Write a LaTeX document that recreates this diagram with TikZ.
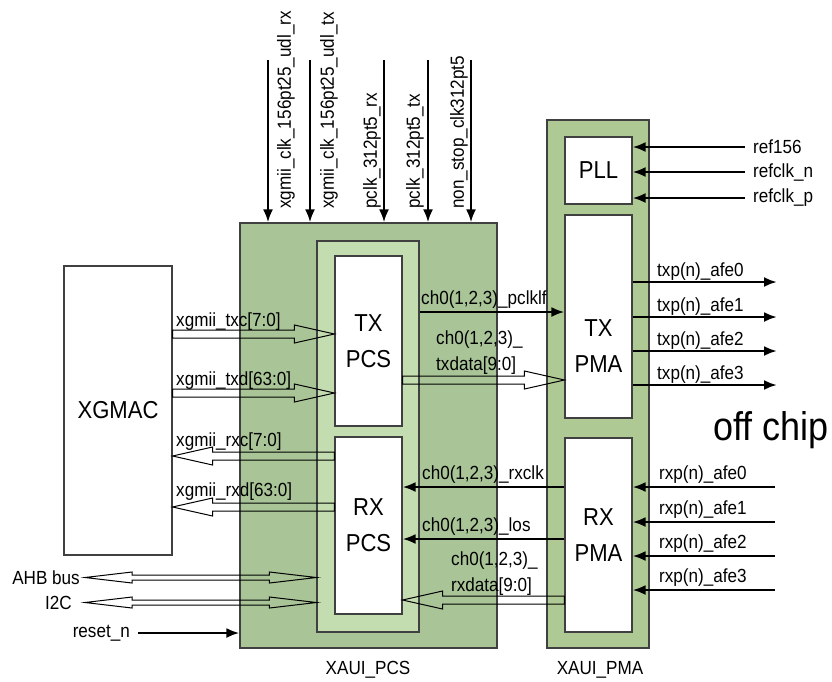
\documentclass[tikz,border=0pt]{standalone}
\usepackage{fontspec}
\setmainfont{Liberation Sans}[FakeStretch=0.9]
\usetikzlibrary{arrows.meta,calc}

\definecolor{pcsgreen}{HTML}{A9C597}
\definecolor{ingreen}{HTML}{C3DDB0}
\definecolor{pmagreen}{HTML}{AFC994}
\definecolor{boxedge}{HTML}{404040}

\tikzset{
	block/.style={draw=boxedge, line width=1.1pt, fill=white, inner sep=0pt, align=center, font=\fontsize{24.5}{36}\selectfont},
	sig/.style={line width=2.5pt, -{Latex[length=13pt,width=10pt]}},
	bus/.style={draw=black, line width=1pt},
	lbl/.style={inner sep=0pt, font=\fontsize{19}{26}\selectfont},
}

% hollow bus arrow, horizontal, from #1 to #2
\newcommand{\busarrow}[2]{%
	\draw[bus] ($(#1)+(0,4pt)$) -- ($(#2)!40pt!(#1)+(0,4pt)$) -- ($(#2)!40pt!(#1)+(0,9pt)$) -- (#2)
		-- ($(#2)!40pt!(#1)-(0,9pt)$) -- ($(#2)!40pt!(#1)-(0,4pt)$) -- ($(#1)-(0,4pt)$) -- cycle;}
% same with a head at both ends
\newcommand{\busbiarrow}[2]{%
	\draw[bus] (#1) -- ($(#1)!47pt!(#2)+(0,5.5pt)$) -- ($(#1)!47pt!(#2)+(0,2.5pt)$)
		-- ($(#2)!47pt!(#1)+(0,2.5pt)$) -- ($(#2)!47pt!(#1)+(0,5.5pt)$) -- (#2)
		-- ($(#2)!47pt!(#1)-(0,5.5pt)$) -- ($(#2)!47pt!(#1)-(0,2.5pt)$)
		-- ($(#1)!47pt!(#2)-(0,2.5pt)$) -- ($(#1)!47pt!(#2)-(0,5.5pt)$) -- cycle;}

\begin{document}
\begin{tikzpicture}[x=1pt,y=1pt]
	\useasboundingbox (0,0) rectangle (832,-681);

	% blocks
	\node[block, minimum width=108pt, minimum height=289pt] (xgmac) at (118,-410.5) {XGMAC};
	\node[block, fill=pcsgreen, minimum width=257pt, minimum height=425pt] (pcs) at (368.5,-435.5) {};
	\node[block, fill=ingreen, minimum width=102pt, minimum height=391pt] (pcsin) at (368,-436.5) {};
	\node[block, minimum width=67pt, minimum height=170pt] (txpcs) at (368.5,-341) {TX\\PCS};
	\node[block, minimum width=67pt, minimum height=177pt] (rxpcs) at (368.5,-525.5) {RX\\PCS};
	\node[block, fill=pmagreen, minimum width=102pt, minimum height=528pt] (pma) at (598,-384) {};
	\node[block, minimum width=67pt, minimum height=67pt] (pll) at (598.5,-170.5) {PLL};
	\node[block, minimum width=67pt, minimum height=203pt] (txpma) at (598.5,-316.5) {};
	\node[align=center, font=\fontsize{24.5}{36}\selectfont] (txpmatxt) at (598.5,-346) {TX\\PMA};
	\node[block, minimum width=67pt, minimum height=194pt] (rxpma) at (598.5,-535) {RX\\PMA};

	\node[lbl] (pcsname) at (368,-670) {XAUI\_PCS};
	\node[lbl] (pmaname) at (600,-670) {XAUI\_PMA};
	\node[inner sep=0pt, font=\fontsize{40}{44}\selectfont] (offchip) at (771,-430) {off chip};

	% clocks into the pcs
	\foreach \nm/\x in {clkrx/268, clktx/310, pclkrx/384, pclktx/428, nonstop/471}{
		\coordinate (\nm) at (\x,-60);
		\draw[sig] (\nm) -- (\nm |- pcs.north);
	}
	\node[lbl, rotate=90, anchor=north west] (clkrxl) at (277,-209) {xgmii\_clk\_156pt25\_udl\_rx};
	\node[lbl, rotate=90, anchor=north west] (clktxl) at (320,-209) {xgmii\_clk\_156pt25\_udl\_tx};
	\node[lbl, rotate=90, anchor=south west] (pclkrxl) at (381,-209) {pclk\_312pt5\_rx};
	\node[lbl, rotate=90, anchor=south west] (pclktxl) at (424,-209) {pclk\_312pt5\_tx};
	\node[lbl, rotate=90, anchor=south west] (nonstopl) at (468,-209) {non\_stop\_clk312pt5};

	% pll inputs
	\foreach \nm/\txt/\y in {ref/ref156/147, refn/refclk\_n/172, refp/refclk\_p/198}{
		\node[lbl, anchor=west, inner xsep=8pt] (\nm) at (745,-\y) {\txt};
		\draw[sig] (\nm.west) -- (\nm.west -| pll.east);
	}

	% serial lanes
	\foreach \i/\y in {0/282, 1/317, 2/351, 3/385}{
		\coordinate (txo\i) at (777,-\y);
		\draw[sig] (txo\i -| txpma.east) -- (txo\i);
		\node[lbl, anchor=base west] (txol\i) at (657,-\y+6) {txp(n)\_afe\i};
	}
	\foreach \i/\y in {0/487, 1/522, 2/556, 3/590}{
		\coordinate (rxi\i) at (775,-\y);
		\draw[sig] (rxi\i) -- (rxi\i -| rxpma.east);
		\node[lbl, anchor=base west] (rxil\i) at (659,-\y+8) {rxp(n)\_afe\i};
	}

	% xgmii buses
	\coordinate (txc) at (0,-334);
	\coordinate (txd) at (0,-393);
	\coordinate (rxc) at (0,-456);
	\coordinate (rxd) at (0,-507);
	\busarrow{xgmac.east |- txc}{txpcs.west |- txc}
	\busarrow{xgmac.east |- txd}{txpcs.west |- txd}
	\busarrow{rxpcs.west |- rxc}{xgmac.east |- rxc}
	\busarrow{rxpcs.west |- rxd}{xgmac.east |- rxd}
	\node[lbl, anchor=base west] (txcl) at (176,-326) {xgmii\_txc[7:0]};
	\node[lbl, anchor=base west] (txdl) at (176,-385) {xgmii\_txd[63:0]};
	\node[lbl, anchor=base west] (rxcl) at (176,-446) {xgmii\_rxc[7:0]};
	\node[lbl, anchor=base west] (rxdl) at (176,-496) {xgmii\_rxd[63:0]};

	% pcs <-> pma
	\coordinate (pclklf) at (0,-312);
	\coordinate (rxclk) at (0,-487);
	\coordinate (los) at (0,-539);
	\coordinate (txdata) at (0,-380);
	\coordinate (rxdata) at (0,-600);
	\draw[sig] (pcsin.east |- pclklf) -- (txpma.west |- pclklf);
	\draw[sig] (rxpma.west |- rxclk) -- (rxpcs.east |- rxclk);
	\draw[sig] (rxpma.west |- los) -- (rxpcs.east |- los);
	\busarrow{txpcs.east |- txdata}{txpma.west |- txdata}
	\busarrow{rxpma.west |- rxdata}{rxpcs.east |- rxdata}
	\node[lbl, anchor=base west] (pclklfl) at (421,-304) {ch0(1,2,3)\_pclklf};
	\node[lbl, anchor=base west] (rxclkl) at (422,-479) {ch0(1,2,3)\_rxclk};
	\node[lbl, anchor=base west] (losl) at (422,-531) {ch0(1,2,3)\_los};
	\node[lbl, anchor=north west, align=left] (txdatal) at (436,-331) {ch0(1,2,3)\_\\txdata[9:0]};
	\node[lbl, anchor=north west, align=left] (rxdatal) at (451,-552) {ch0(1,2,3)\_\\rxdata[9:0]};

	% host side
	\node[lbl, anchor=east, inner xsep=5pt] (ahb) at (85,-577.5) {AHB bus};
	\node[lbl, anchor=east, inner xsep=13pt] (iic) at (85,-602.5) {I2C};
	\node[lbl, anchor=east, inner xsep=8pt] (rst) at (138,-633) {reset\_n};
	\busbiarrow{ahb.east}{ahb.east -| pcsin.west}
	\busbiarrow{iic.east}{iic.east -| pcsin.west}
	\draw[sig] (rst.east) -- (rst.east -| pcs.west);
\end{tikzpicture}
\end{document}
